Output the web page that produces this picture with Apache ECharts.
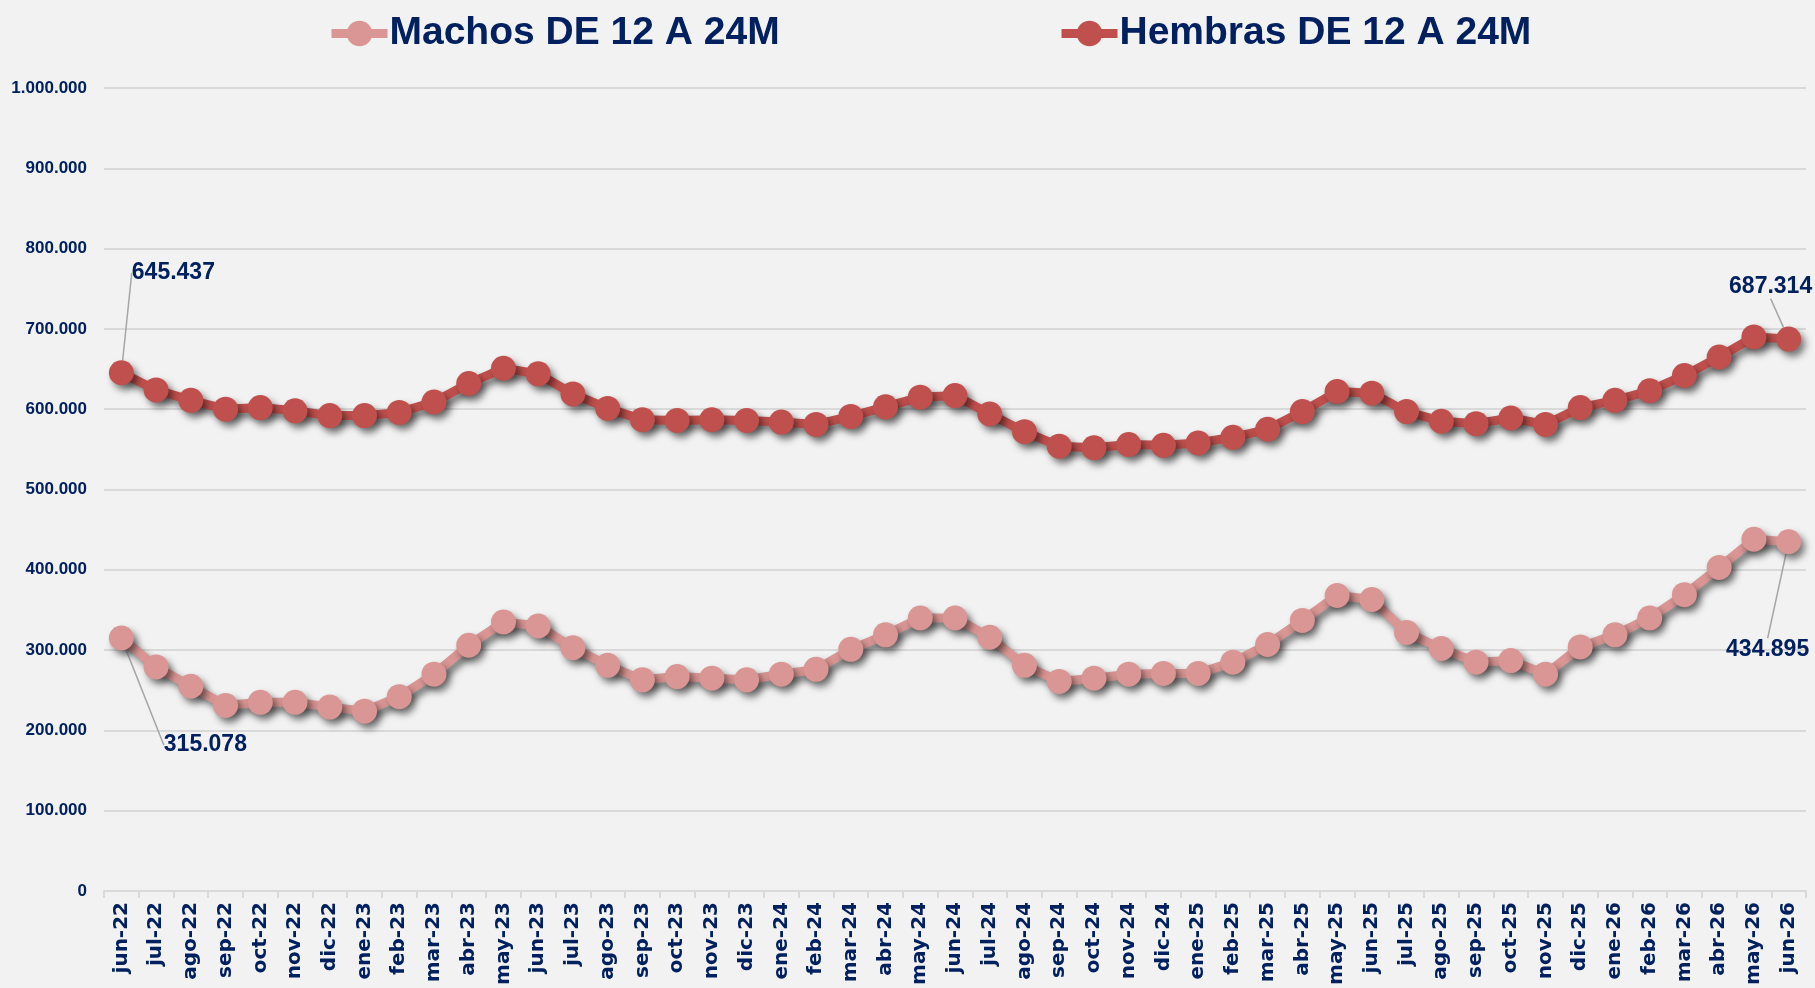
<!DOCTYPE html>
<html>
<head>
<meta charset="utf-8">
<script src="https://cdn.jsdelivr.net/npm/echarts@6/dist/echarts.min.js"></script>
<style>
  html, body { margin: 0; padding: 0; background: #F2F2F2; }
  #chart { width: 1815px; height: 988px; }
</style>
</head>
<body>
<div id="chart"></div>
<script>
const months = [
  'jun-22', 'jul-22', 'ago-22', 'sep-22', 'oct-22', 'nov-22', 'dic-22',
  'ene-23', 'feb-23', 'mar-23', 'abr-23', 'may-23', 'jun-23', 'jul-23', 'ago-23', 'sep-23', 'oct-23', 'nov-23', 'dic-23',
  'ene-24', 'feb-24', 'mar-24', 'abr-24', 'may-24', 'jun-24', 'jul-24', 'ago-24', 'sep-24', 'oct-24', 'nov-24', 'dic-24',
  'ene-25', 'feb-25', 'mar-25', 'abr-25', 'may-25', 'jun-25', 'jul-25', 'ago-25', 'sep-25', 'oct-25', 'nov-25', 'dic-25',
  'ene-26', 'feb-26', 'mar-26', 'abr-26', 'may-26', 'jun-26'
];

const machos = [
  315078, 279000, 255000, 231000, 235000, 235000, 229000,
  224000, 242000, 270000, 306000, 335000, 330000, 303000, 281000, 263000, 267000, 265000, 263000,
  270000, 276000, 301000, 319000, 340000, 340000, 316000, 281000, 261000, 265000, 270000, 271000,
  271000, 285000, 307000, 337000, 368000, 363000, 322000, 302000, 285000, 287000, 270000, 304000,
  319000, 340000, 369000, 403000, 438000, 434895
];

const hembras = [
  645437, 624000, 611000, 600000, 602000, 598000, 592000,
  592000, 596000, 609000, 632000, 651000, 644000, 619000, 601000, 587000, 586000, 587000, 586000,
  584000, 581000, 591000, 603000, 615000, 617000, 594000, 572000, 554000, 552000, 556000, 555000,
  558000, 565000, 575000, 597000, 622000, 620000, 597000, 585000, 582000, 589000, 581000, 602000,
  611000, 623000, 642000, 665000, 690000, 687314
];

const seriesNames = ['Machos DE 12 A 24M', 'Hembras DE 12 A 24M'];

const navy = '#002060';
const font = "'Liberation Sans', Arial, sans-serif";
const wideFont = "'DejaVu Sans', Verdana, sans-serif";

// thousands separator with dots, like the source
function fmt(v) {
  return String(Math.round(v)).replace(/\B(?=(\d{3})+(?!\d))/g, '.');
}

// only first and last month carry a value label
function withEndLabels(values) {
  const last = values.length - 1;
  return values.map((v, i) =>
    i === 0 || i === last ? { value: v, label: { show: true } } : v
  );
}

// callout offsets from the point, per series: [first, last]
const calloutOffsets = [
  [[84, 107], [-21, 108]],
  [[52, -100], [-18, -52]],
];

const shadow = {
  shadowColor: 'rgba(0, 0, 0, 0.5)',
  shadowBlur: 7,
  shadowOffsetX: 4,
  shadowOffsetY: 5,
};

const noShadow = { shadowColor: 'transparent', shadowBlur: 0, shadowOffsetX: 0, shadowOffsetY: 0 };

function makeSeries(name, values, color) {
  return {
    name: name,
    type: 'line',
    data: withEndLabels(values),
    symbol: 'circle',
    symbolSize: 25,
    lineStyle: Object.assign({ width: 9, color: color }, shadow),
    itemStyle: Object.assign({ color: color }, shadow),
    label: {
      show: false,
      position: 'inside',
      formatter: (p) => fmt(p.value),
      color: navy,
      fontFamily: font,
      fontWeight: 'bold',
      fontSize: 23,
    },
    labelLine: {
      show: true,
      lineStyle: { color: '#A6A6A6', width: 1.5 },
    },
    labelLayout: (params) => {
      const si = seriesNames.indexOf(name);
      const off = calloutOffsets[si][params.dataIndex === 0 ? 0 : 1];
      return { dx: off[0], dy: off[1] };
    },
    emphasis: { disabled: true },
  };
}

function makeLegend(name, left) {
  return {
    data: [name],
    left: left,
    top: 9,
    itemWidth: 56,
    itemHeight: 32,
    itemGap: 0,
    itemStyle: Object.assign({}, noShadow),
    lineStyle: Object.assign({ width: 9 }, noShadow),
    textStyle: { color: navy, fontFamily: font, fontWeight: 'bold', fontSize: 39, padding: [0, 0, 0, -3] },
  };
}

const chart = echarts.init(document.getElementById('chart'));

const option = {
  backgroundColor: '#F2F2F2',
  animation: false,
  legend: [
    makeLegend(seriesNames[0], 322),
    makeLegend(seriesNames[1], 1052),
  ],
  grid: {
    left: 104,
    right: 9,
    top: 88,
    bottom: 97,
  },
  xAxis: {
    type: 'category',
    data: months,
    boundaryGap: true,
    axisLine: { lineStyle: { color: '#D9D9D9', width: 2 } },
    axisTick: { show: true, length: 7, lineStyle: { color: '#D9D9D9', width: 2 } },
    axisLabel: {
      interval: 0,
      rotate: 90,
      margin: 11,
      color: navy,
      fontFamily: wideFont,
      fontWeight: 'bold',
      fontSize: 20,
    },
  },
  yAxis: {
    type: 'value',
    min: 0,
    max: 1000000,
    interval: 100000,
    axisLine: { show: false },
    axisTick: { show: false },
    splitLine: { lineStyle: { color: '#D9D9D9', width: 2 } },
    axisLabel: {
      margin: 17,
      color: navy,
      fontFamily: font,
      fontWeight: 'bold',
      fontSize: 17,
      formatter: (v) => fmt(v),
    },
  },
  series: [
    makeSeries(seriesNames[0], machos, '#D99694'),
    makeSeries(seriesNames[1], hembras, '#C0504D'),
  ],
};

chart.setOption(option);
</script>
</body>
</html>
